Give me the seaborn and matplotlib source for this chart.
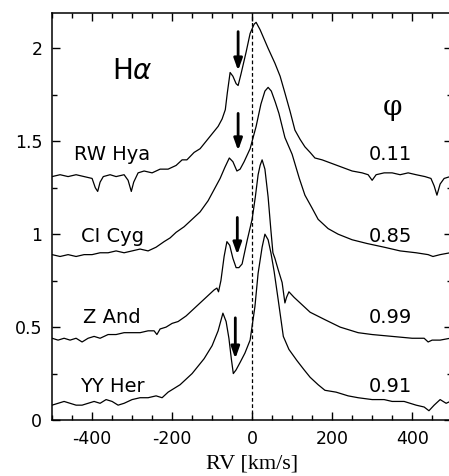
import numpy as np
import pandas as pd
import matplotlib
matplotlib.use("Agg")
import matplotlib.pyplot as plt
from matplotlib.ticker import MultipleLocator
import seaborn as sns

# H-alpha profiles (RV in km/s, normalised flux + offset)
rw_hya_rv = [-500, -480, -460, -440, -420, -400, -392, -386, -380, -372, -355, -340, -320, -310,
             -302, -296, -285, -270, -250, -230, -210, -190, -175, -163, -145, -130, -115, -100,
             -85, -75, -67, -62, -55, -48, -40, -35, -28, -15, -5, 5, 10, 20, 30, 40, 57, 70,
             82, 95, 107, 120, 132, 145, 157, 175, 200, 225, 250, 275, 290, 300, 310, 330, 350,
             370, 390, 410, 432, 447, 455, 462, 470, 480, 495]
rw_hya_flux = [1.31, 1.32, 1.31, 1.32, 1.31, 1.30, 1.25, 1.23, 1.28, 1.31, 1.32, 1.31, 1.32, 1.29,
               1.23, 1.28, 1.33, 1.34, 1.33, 1.35, 1.35, 1.37, 1.40, 1.40, 1.44, 1.46, 1.50, 1.54,
               1.58, 1.62, 1.67, 1.76, 1.87, 1.85, 1.81, 1.80, 1.86, 1.98, 2.08, 2.13, 2.14, 2.10,
               2.05, 2.00, 1.92, 1.85, 1.76, 1.66, 1.56, 1.51, 1.47, 1.44, 1.41, 1.40, 1.38, 1.36,
               1.34, 1.33, 1.32, 1.29, 1.32, 1.33, 1.33, 1.32, 1.33, 1.32, 1.31, 1.30, 1.26, 1.21,
               1.27, 1.30, 1.31]

ci_cyg_rv = [-500, -480, -460, -440, -420, -400, -380, -360, -340, -320, -300, -280, -260, -240,
             -220, -205, -190, -170, -150, -130, -110, -95, -80, -68, -57, -48, -38, -30, -20, -5,
             10, 22, 32, 40, 48, 58, 67, 82, 100, 118, 132, 150, 165, 190, 215, 250, 287, 330,
             370, 410, 440, 452, 470, 495]
ci_cyg_flux = [0.89, 0.88, 0.89, 0.88, 0.89, 0.89, 0.90, 0.90, 0.91, 0.90, 0.91, 0.92, 0.91, 0.93,
               0.96, 0.98, 1.01, 1.04, 1.08, 1.12, 1.18, 1.24, 1.30, 1.36, 1.41, 1.39, 1.34, 1.35,
               1.39, 1.46, 1.58, 1.70, 1.77, 1.79, 1.77, 1.71, 1.65, 1.52, 1.43, 1.30, 1.21, 1.14,
               1.08, 1.03, 1.00, 0.97, 0.95, 0.93, 0.91, 0.90, 0.89, 0.88, 0.89, 0.90]

z_and_rv = [-500, -485, -470, -455, -440, -425, -410, -395, -380, -360, -340, -320, -300, -280,
            -260, -245, -238, -230, -215, -200, -185, -165, -150, -135, -120, -105, -95, -88, -84,
            -78, -70, -63, -56, -48, -40, -33, -25, -12, 0, 8, 15, 20, 25, 32, 40, 47, 52, 57, 65,
            75, 82, 86, 92, 105, 125, 145, 182, 220, 265, 300, 350, 400, 430, 440, 450, 470, 495]
z_and_flux = [0.44, 0.43, 0.44, 0.43, 0.44, 0.42, 0.44, 0.45, 0.44, 0.46, 0.46, 0.47, 0.47, 0.47,
              0.48, 0.48, 0.46, 0.49, 0.50, 0.52, 0.53, 0.56, 0.59, 0.62, 0.65, 0.68, 0.70, 0.71,
              0.69, 0.75, 0.88, 0.96, 0.94, 0.87, 0.82, 0.82, 0.84, 0.97, 1.08, 1.20, 1.32, 1.37,
              1.40, 1.35, 1.20, 1.02, 0.90, 0.87, 0.81, 0.74, 0.63, 0.66, 0.69, 0.66, 0.62, 0.58,
              0.54, 0.50, 0.47, 0.46, 0.45, 0.44, 0.44, 0.42, 0.43, 0.43, 0.44]

yy_her_rv = [-500, -485, -470, -455, -440, -425, -410, -395, -380, -365, -350, -335, -320, -300,
             -280, -260, -240, -225, -210, -195, -180, -165, -150, -135, -120, -100, -85, -73,
             -65, -58, -52, -47, -40, -30, -18, -5, 7, 15, 25, 32, 40, 47, 55, 65, 78, 92, 112,
             130, 145, 165, 182, 210, 240, 265, 300, 330, 350, 380, 410, 430, 442, 455, 470, 485,
             495]
yy_her_flux = [0.08, 0.09, 0.10, 0.09, 0.08, 0.08, 0.09, 0.10, 0.09, 0.11, 0.10, 0.08, 0.09, 0.11,
               0.12, 0.12, 0.13, 0.12, 0.15, 0.17, 0.19, 0.22, 0.25, 0.29, 0.33, 0.40, 0.48,
               0.575, 0.53, 0.44, 0.33, 0.25, 0.27, 0.31, 0.36, 0.43, 0.61, 0.79, 0.93, 1.00,
               0.97, 0.90, 0.80, 0.65, 0.45, 0.38, 0.32, 0.27, 0.23, 0.19, 0.16, 0.15, 0.13, 0.12,
               0.11, 0.11, 0.10, 0.10, 0.08, 0.07, 0.05, 0.08, 0.11, 0.09, 0.10]

stars = ["RW Hya", "CI Cyg", "Z And", "YY Her"]
phases = ["0.11", "0.85", "0.99", "0.91"]
label_y = [1.43, 0.99, 0.55, 0.18]
# absorption arrows: (rv, top, tip)
arrow_rv = [-35, -35, -37, -42]
arrow_top = [2.09, 1.65, 1.09, 0.55]
arrow_tip = [1.88, 1.45, 0.89, 0.33]

profiles = pd.concat([
    pd.DataFrame({"rv": rw_hya_rv, "flux": rw_hya_flux, "star": "RW Hya"}),
    pd.DataFrame({"rv": ci_cyg_rv, "flux": ci_cyg_flux, "star": "CI Cyg"}),
    pd.DataFrame({"rv": z_and_rv, "flux": z_and_flux, "star": "Z And"}),
    pd.DataFrame({"rv": yy_her_rv, "flux": yy_her_flux, "star": "YY Her"}),
])

sns.set_style("ticks", {"axes.edgecolor": "black", "text.color": "black",
                        "xtick.color": "black", "ytick.color": "black",
                        "axes.labelcolor": "black"})
plt.rcParams["font.family"] = ["DejaVu Sans"]
plt.rcParams["axes.unicode_minus"] = False
plt.rcParams["mathtext.fontset"] = "dejavusans"

fig = plt.figure(figsize=(4.49, 4.76), dpi=100)
ax = fig.add_axes([0.116, 0.1176, 0.891, 0.855])

for star in stars:
    sub = profiles[profiles.star == star]
    sns.lineplot(data=sub, x="rv", y="flux", color="black", linewidth=0.9,
                 estimator=None, sort=False, ax=ax)

ax.axvline(0, color="black", linestyle=(0, (3, 2)), linewidth=0.9)

for rv, top, tip in zip(arrow_rv, arrow_top, arrow_tip):
    ax.annotate("", xy=(rv, tip), xytext=(rv, top),
                arrowprops=dict(arrowstyle="-|>,head_length=0.7,head_width=0.25",
                                color="black", lw=2.0, shrinkA=0, shrinkB=0))

for star, ph, y in zip(stars, phases, label_y):
    ax.text(-350, y, star, ha="center", va="center", fontsize=14, color="black")
    ax.text(345, y, ph, ha="center", va="center", fontsize=14, color="black")

ax.text(-300, 1.88, r"H$\alpha$", ha="center", va="center", fontsize=20, color="black")
ax.text(352, 1.68, "φ", ha="center", va="center", fontsize=20, color="black",
        family="DejaVu Serif")

ax.set_xlim(-500, 500)
ax.set_ylim(0, 2.19)
ax.xaxis.set_major_locator(MultipleLocator(200))
ax.xaxis.set_minor_locator(MultipleLocator(50))
ax.yaxis.set_major_locator(MultipleLocator(0.5))
ax.yaxis.set_minor_locator(MultipleLocator(0.25))
ax.set_yticks([0, 0.5, 1, 1.5, 2])
ax.set_yticklabels(["0", "0.5", "1", "1.5", "2"])
ax.tick_params(which="both", direction="in", top=True, right=True, labelsize=12.5,
               width=1, colors="black")
ax.tick_params(which="major", length=6, pad=7)
ax.tick_params(which="minor", length=3.5)
for sp in ax.spines.values():
    sp.set_linewidth(1.1)
    sp.set_color("black")

ax.set_xlabel("RV [km/s]", family="Liberation Serif", fontsize=16, labelpad=5, color="black")
ax.set_ylabel("")

fig.savefig("out.png", dpi=100)
